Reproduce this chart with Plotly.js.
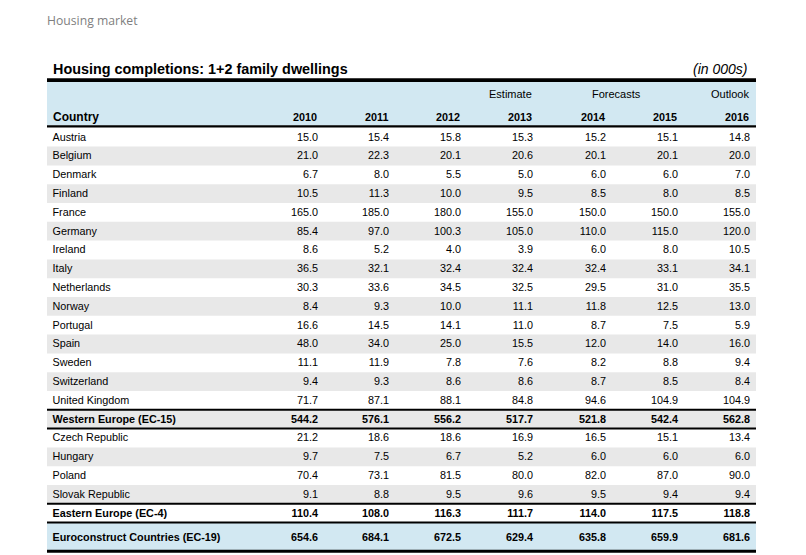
<!DOCTYPE html>
<html>
<head>
<meta charset="utf-8">
<script src="https://cdn.plot.ly/plotly-3.0.1.min.js"></script>
<style>html,body{margin:0;padding:0;background:#fff;}#chart{width:806px;height:555px;}</style>
</head>
<body>
<div id="chart"></div>
<script>
// ---- data ----
const countries = ["Austria","Belgium","Denmark","Finland","France","Germany","Ireland","Italy","Netherlands","Norway","Portugal","Spain","Sweden","Switzerland","United Kingdom","Western Europe (EC-15)","Czech Republic","Hungary","Poland","Slovak Republic","Eastern Europe (EC-4)","Euroconstruct Countries (EC-19)"];
const years = ["2010","2011","2012","2013","2014","2015","2016"];
const yearGroups = ["","","","Estimate","Forecasts","","Outlook"];
const v2010 = [15.0,21.0,6.7,10.5,165.0,85.4,8.6,36.5,30.3,8.4,16.6,48.0,11.1,9.4,71.7,544.2,21.2,9.7,70.4,9.1,110.4,654.6];
const v2011 = [15.4,22.3,8.0,11.3,185.0,97.0,5.2,32.1,33.6,9.3,14.5,34.0,11.9,9.3,87.1,576.1,18.6,7.5,73.1,8.8,108.0,684.1];
const v2012 = [15.8,20.1,5.5,10.0,180.0,100.3,4.0,32.4,34.5,10.0,14.1,25.0,7.8,8.6,88.1,556.2,18.6,6.7,81.5,9.5,116.3,672.5];
const v2013 = [15.3,20.6,5.0,9.5,155.0,105.0,3.9,32.4,32.5,11.1,11.0,15.5,7.6,8.6,84.8,517.7,16.9,5.2,80.0,9.6,111.7,629.4];
const v2014 = [15.2,20.1,6.0,8.5,150.0,110.0,6.0,32.4,29.5,11.8,8.7,12.0,8.2,8.7,94.6,521.8,16.5,6.0,82.0,9.5,114.0,635.8];
const v2015 = [15.1,20.1,6.0,8.0,150.0,115.0,8.0,33.1,31.0,12.5,7.5,14.0,8.8,8.5,104.9,542.4,15.1,6.0,87.0,9.4,117.5,659.9];
const v2016 = [14.8,20.0,7.0,8.5,155.0,120.0,10.5,34.1,35.5,13.0,5.9,16.0,9.4,8.4,104.9,562.8,13.4,6.0,90.0,9.4,118.8,681.6];
const totalRows = ["Western Europe (EC-15)","Eastern Europe (EC-4)","Euroconstruct Countries (EC-19)"];

// ---- layout geometry (pixel-unit axes) ----
const W = 806, H = 555;
const tableL = 47, tableR = 756;
const countryX = 52.5;
const colRight = [318, 389, 461, 533, 606, 678, 750];
const groupX = [null, null, null, 534, 616, null, 751];
const firstRowY = 137.2, pitch = 18.8, lastRowY = 537.3;
const textDy = 0.8;
const FONT = "Liberation Sans, Arial, sans-serif";
const series = [v2010, v2011, v2012, v2013, v2014, v2015, v2016];

function rowY(i) { return i === countries.length - 1 ? lastRowY : firstRowY + pitch * i; }
const rowYs = countries.map((c, i) => rowY(i) + textDy);
const isTotal = countries.map(c => totalRows.indexOf(c) >= 0);
const fmt = (v, i) => isTotal[i] ? "<b>" + v.toFixed(1) + "</b>" : v.toFixed(1);

const traces = [];
// country names
traces.push({
  type: "scatter", mode: "text", x: countries.map(() => countryX), y: rowYs,
  text: countries.map((c, i) => isTotal[i] ? "<b>" + c + "</b>" : c),
  textposition: "middle right", textfont: {family: FONT, size: 10.8, color: "#000"},
  hoverinfo: "skip", showlegend: false, cliponaxis: false
});
// value columns
series.forEach((vals, k) => {
  traces.push({
    type: "scatter", mode: "text", x: vals.map(() => colRight[k]), y: rowYs,
    text: vals.map(fmt), textposition: "middle left",
    textfont: {family: FONT, size: 10.8, color: "#000"},
    hoverinfo: "skip", showlegend: false, cliponaxis: false
  });
});

// shapes: shading bands and rules
const shapes = [];
const band = (y0, y1, color) => shapes.push({type: "rect", xref: "x", yref: "y", x0: tableL, x1: tableR, y0: y0, y1: y1, fillcolor: color, line: {width: 0}, layer: "below"});
const rule = (y, w) => shapes.push({type: "line", xref: "x", yref: "y", x0: tableL, x1: tableR, y0: y, y1: y, line: {color: "#000", width: w}, layer: "above"});
band(81.5, 125.5, "#d2e8f2");
countries.forEach((c, i) => {
  if (i === countries.length - 1) band(523, 550, "#d2e8f2");
  else if (i % 2 === 1) band(rowY(i) - pitch / 2, rowY(i) + pitch / 2, "#e8e8e8");
});
rule(80.2, 3.7);
rule(126.3, 2.3);
rule(rowY(14) + pitch / 2, 2);
rule(rowY(15) + pitch / 2, 2);
rule(rowY(19) + pitch / 2, 2);
rule(rowY(20) + pitch / 2, 2);
rule(551.3, 3);

// annotations: headers and titles
const annotations = [];
annotations.push({xref: "x", yref: "y", x: 44.5, y: 20.5, xanchor: "left", yanchor: "middle", showarrow: false,
  text: "Housing market", font: {family: "Open Sans, sans-serif", size: 12.2, color: "#7f7f7f"}});
annotations.push({xref: "x", yref: "y", x: 749, y: 69, xanchor: "right", yanchor: "middle", showarrow: false,
  text: "<i>(in 000s)</i>", font: {family: FONT, size: 14, color: "#000"}});
annotations.push({xref: "x", yref: "y", x: 51, y: 117, xanchor: "left", yanchor: "middle", showarrow: false,
  text: "<b>Country</b>", font: {family: FONT, size: 12, color: "#000"}});
years.forEach((yr, k) => {
  annotations.push({xref: "x", yref: "y", x: colRight[k] + 1, y: 117, xanchor: "right", yanchor: "middle", showarrow: false,
    text: "<b>" + yr + "</b>", font: {family: FONT, size: 10.8, color: "#000"}});
  if (yearGroups[k]) {
    annotations.push({xref: "x", yref: "y", x: groupX[k], y: 94, xanchor: k === 4 ? "center" : "right", yanchor: "middle", showarrow: false,
      text: yearGroups[k], font: {family: FONT, size: 11, color: "#000"}});
  }
});

const layout = {
  width: W, height: H,
  margin: {l: 0, r: 0, t: 0, b: 0, pad: 0},
  paper_bgcolor: "#fff", plot_bgcolor: "#fff",
  title: {text: "<b>Housing completions: 1+2 family dwellings</b>", xref: "container", yref: "container",
    x: 53 / W, xanchor: "left", y: 1 - 69 / H, yanchor: "middle",
    font: {family: FONT, size: 14.4, color: "#000"}},
  xaxis: {range: [0, W], visible: false, fixedrange: true},
  yaxis: {range: [H, 0], visible: false, fixedrange: true},
  shapes: shapes, annotations: annotations, showlegend: false
};

Plotly.newPlot("chart", traces, layout, {displayModeBar: false, staticPlot: true});
</script>
</body>
</html>
